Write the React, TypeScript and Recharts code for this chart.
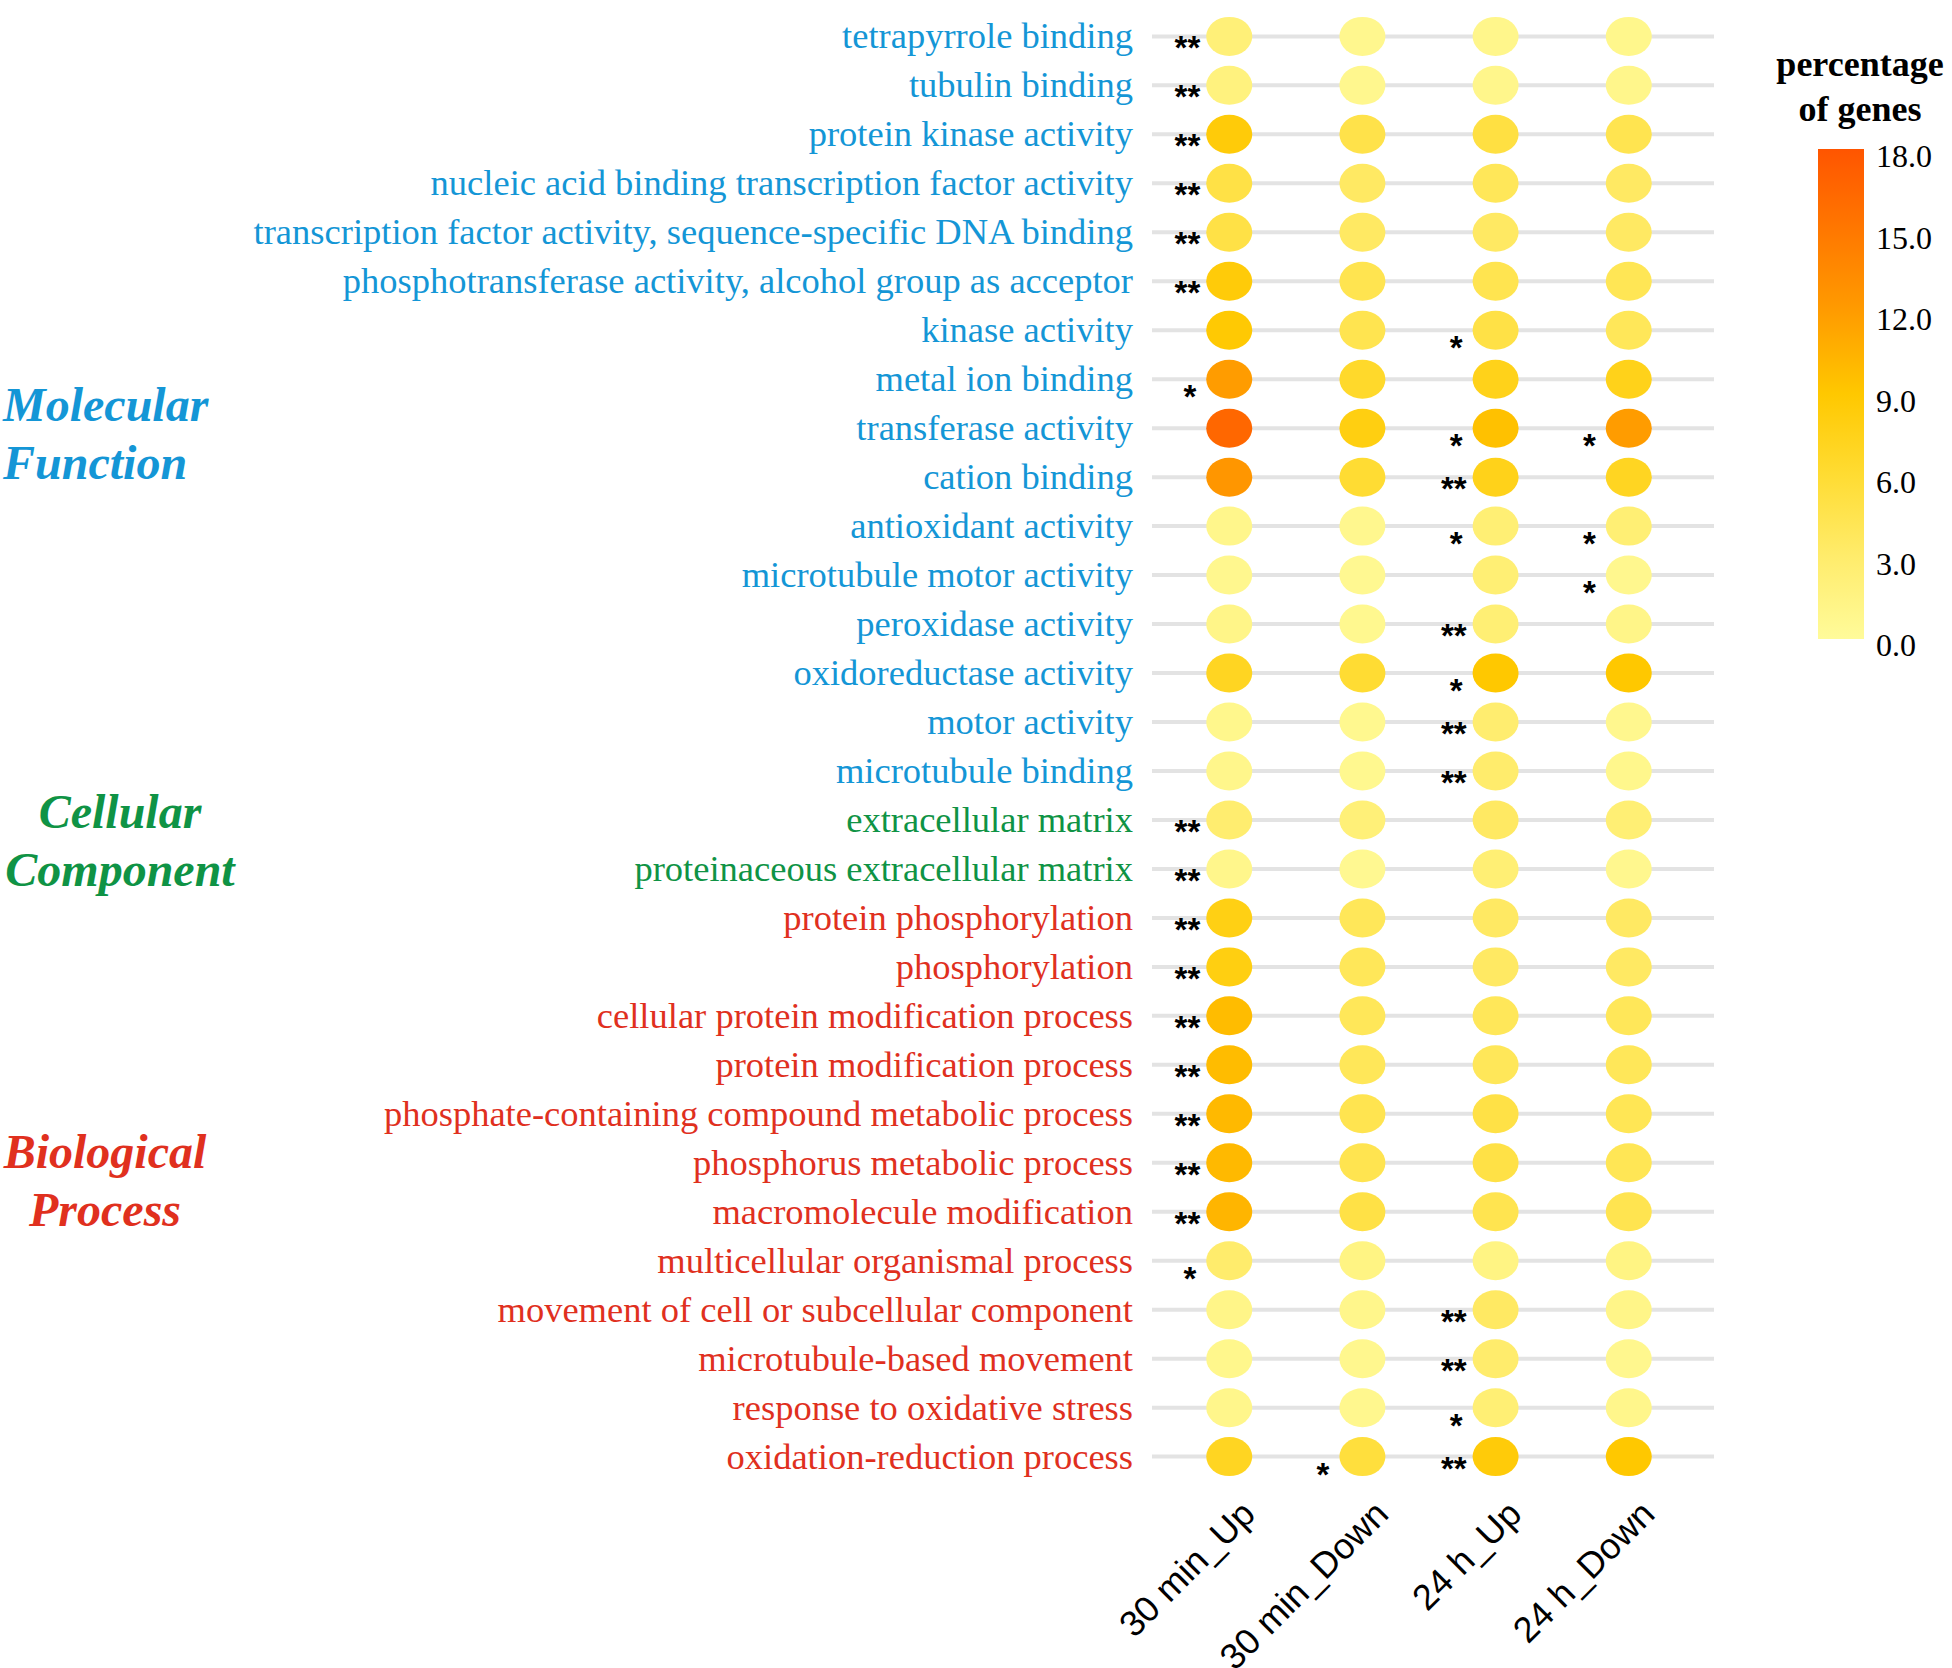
import React from 'react';
import { ScatterChart, Scatter, XAxis, YAxis, ReferenceLine } from 'recharts';

const terms = [
  'tetrapyrrole binding',
  'tubulin binding',
  'protein kinase activity',
  'nucleic acid binding transcription factor activity',
  'transcription factor activity, sequence-specific DNA binding',
  'phosphotransferase activity, alcohol group as acceptor',
  'kinase activity',
  'metal ion binding',
  'transferase activity',
  'cation binding',
  'antioxidant activity',
  'microtubule motor activity',
  'peroxidase activity',
  'oxidoreductase activity',
  'motor activity',
  'microtubule binding',
  'extracellular matrix',
  'proteinaceous extracellular matrix',
  'protein phosphorylation',
  'phosphorylation',
  'cellular protein modification process',
  'protein modification process',
  'phosphate-containing compound metabolic process',
  'phosphorus metabolic process',
  'macromolecule modification',
  'multicellular organismal process',
  'movement of cell or subcellular component',
  'microtubule-based movement',
  'response to oxidative stress',
  'oxidation-reduction process',
];

const termGroups = [
  'MF', 'MF', 'MF', 'MF', 'MF', 'MF', 'MF', 'MF', 'MF', 'MF', 'MF', 'MF', 'MF', 'MF', 'MF', 'MF',
  'CC', 'CC',
  'BP', 'BP', 'BP', 'BP', 'BP', 'BP', 'BP', 'BP', 'BP', 'BP', 'BP', 'BP',
];

const columns = ['30 min_Up', '30 min_Down', '24 h_Up', '24 h_Down'];

const up30 = [2.2, 1.8, 8.5, 5.0, 5.0, 8.5, 8.8, 12.0, 16.5, 12.5, 1.0, 0.8, 1.2, 7.0, 0.9, 1.0, 2.8, 1.0, 7.8, 8.0, 9.8, 9.8, 10.0, 10.0, 10.3, 3.0, 1.2, 0.9, 1.0, 7.0];
const down30 = [0.8, 0.8, 4.8, 3.5, 3.5, 4.5, 4.5, 6.5, 8.0, 6.0, 0.8, 0.6, 0.7, 6.0, 0.7, 0.7, 2.2, 0.6, 4.0, 4.0, 4.0, 4.0, 4.5, 4.5, 5.0, 1.5, 1.0, 0.8, 0.8, 5.5];
const up24 = [1.0, 1.0, 5.2, 4.0, 3.5, 4.5, 5.0, 7.5, 9.5, 7.5, 2.5, 2.5, 2.5, 9.0, 2.8, 3.0, 3.5, 2.5, 3.5, 3.5, 4.0, 4.0, 5.0, 5.0, 4.5, 1.5, 3.5, 3.0, 2.5, 8.5];
const down24 = [0.9, 1.0, 4.5, 3.5, 3.5, 4.2, 4.0, 7.5, 12.0, 7.0, 2.5, 0.8, 1.2, 9.0, 0.8, 0.9, 2.5, 0.8, 3.5, 3.5, 4.0, 4.0, 4.2, 4.2, 4.5, 1.5, 1.2, 0.8, 1.0, 9.0];

const sigUp30 = ['**', '**', '**', '**', '**', '**', '', '*', '', '', '', '', '', '', '', '', '**', '**', '**', '**', '**', '**', '**', '**', '**', '*', '', '', '', ''];
const sigDown30 = ['', '', '', '', '', '', '', '', '', '', '', '', '', '', '', '', '', '', '', '', '', '', '', '', '', '', '', '', '', '*'];
const sigUp24 = ['', '', '', '', '', '', '*', '', '*', '**', '*', '', '**', '*', '**', '**', '', '', '', '', '', '', '', '', '', '', '**', '**', '*', '**'];
const sigDown24 = ['', '', '', '', '', '', '', '', '*', '', '*', '*', '', '', '', '', '', '', '', '', '', '', '', '', '', '', '', '', '', ''];

const colorTicks = ['18.0', '15.0', '12.0', '9.0', '6.0', '3.0', '0.0'];

const groupColor: Record<string, string> = { MF: '#1496d6', CC: '#0f9345', BP: '#e0301e' };

const colorStops: [number, number[]][] = [
  [0, [255, 251, 154]],
  [3, [255, 236, 108]],
  [6, [255, 220, 51]],
  [9, [255, 200, 0]],
  [12, [255, 156, 0]],
  [15, [255, 120, 0]],
  [18, [255, 85, 0]],
];

function colorFor(v: number): string {
  for (let k = 0; k < colorStops.length - 1; k++) {
    const [a, ca] = colorStops[k];
    const [b, cb] = colorStops[k + 1];
    if (v <= b || k === colorStops.length - 2) {
      const t = Math.max(0, Math.min(1, (v - a) / (b - a)));
      const c = ca.map((x, i) => Math.round(x + (cb[i] - x) * t));
      return `rgb(${c[0]},${c[1]},${c[2]})`;
    }
  }
  return '#fff';
}

const valueCols = [up30, down30, up24, down24];
const sigCols = [sigUp30, sigDown30, sigUp24, sigDown24];

const series = columns.map((name, j) => ({
  name,
  data: terms.map((t, i) => ({ x: j, y: i, term: t, value: valueCols[j][i], sig: sigCols[j][i] })),
}));

const serif = "'Liberation Serif', 'Times New Roman', serif";
const sans = "'Liberation Sans', Arial, sans-serif";

const Dot = (props: any) => {
  const { cx, cy, payload } = props;
  if (cx == null || cy == null) return null;
  const dbl = payload.sig === '**';
  return (
    <g>
      <ellipse cx={cx} cy={cy} rx={23} ry={19.5} fill={colorFor(payload.value)} />
      {payload.sig ? (
        <text
          x={dbl ? cx - 29 : cx - 33}
          y={cy + (dbl ? 23 : 29)}
          textAnchor="end"
          fontFamily={sans}
          fontWeight="bold"
          fontSize={33}
          fill="#000"
        >
          {payload.sig}
        </text>
      ) : null}
    </g>
  );
};

const YTick = (props: any) => {
  const { x, y, payload } = props;
  const i = payload.value;
  return (
    <text x={x} y={y} dy={12} textAnchor="end" fontFamily={serif} fontSize={36.5} fill={groupColor[termGroups[i]]}>
      {terms[i]}
    </text>
  );
};

const XTick = (props: any) => {
  const { x, y, payload } = props;
  const ax = x + 28;
  const ay = y + 30;
  return (
    <text x={ax} y={ay} textAnchor="end" fontFamily={sans} fontSize={36} fill="#000" transform={`rotate(-45, ${ax}, ${ay})`}>
      {columns[payload.value]}
    </text>
  );
};

const groupLabelStyle: React.CSSProperties = {
  position: 'absolute',
  fontFamily: serif,
  fontStyle: 'italic',
  fontWeight: 'bold',
  fontSize: 48,
  lineHeight: '58px',
  whiteSpace: 'nowrap',
};

export default function App() {
  return (
    <div style={{ position: 'absolute', left: 0, top: 0, width: 1952, height: 1668, background: '#fff', overflow: 'hidden' }}>
      <ScatterChart width={1952} height={1668} margin={{ top: 7, right: 238, bottom: 0, left: 0 }}>
        <XAxis
          type="number"
          dataKey="x"
          domain={[-0.58, 3.64]}
          ticks={[0, 1, 2, 3]}
          interval={0}
          height={182}
          tickLine={false}
          axisLine={false}
          tickSize={0}
          tickMargin={0}
          allowDataOverflow
          tick={(p: any) => <XTick {...p} />}
        />
        <YAxis
          type="number"
          dataKey="y"
          domain={[-0.6, 29.6]}
          reversed
          ticks={terms.map((_, i) => i)}
          interval={0}
          width={1152}
          tickLine={false}
          axisLine={false}
          tickSize={0}
          tickMargin={19}
          allowDataOverflow
          tick={(p: any) => <YTick {...p} />}
        />
        {terms.map((t, i) => (
          <ReferenceLine key={t} y={i} stroke="#e3e3e3" strokeWidth={4} />
        ))}
        {series.map((s) => (
          <Scatter key={s.name} name={s.name} data={s.data} shape={(p: any) => <Dot {...p} />} isAnimationActive={false} />
        ))}
      </ScatterChart>

      <div style={{ ...groupLabelStyle, left: 3, top: 376, color: '#1496d6', textAlign: 'left' }}>
        Molecular<br />Function
      </div>
      <div style={{ ...groupLabelStyle, left: 0, width: 240, top: 783, color: '#0f9345', textAlign: 'center' }}>
        Cellular<br />Component
      </div>
      <div style={{ ...groupLabelStyle, left: 0, width: 210, top: 1123, color: '#e0301e', textAlign: 'center' }}>
        Biological<br />Process
      </div>

      <div
        style={{
          position: 'absolute',
          left: 1760,
          width: 200,
          top: 42,
          textAlign: 'center',
          fontFamily: serif,
          fontWeight: 'bold',
          fontSize: 36,
          lineHeight: '45px',
          color: '#000',
        }}
      >
        percentage<br />of genes
      </div>
      <div
        style={{
          position: 'absolute',
          left: 1818,
          top: 149,
          width: 46,
          height: 490,
          background:
            'linear-gradient(to top, rgb(255,251,154) 0%, rgb(255,236,108) 16.67%, rgb(255,220,51) 33.33%, rgb(255,200,0) 50%, rgb(255,156,0) 66.67%, rgb(255,120,0) 83.33%, rgb(255,85,0) 100%)',
        }}
      />
      {colorTicks.map((t, k) => (
        <div
          key={t}
          style={{
            position: 'absolute',
            left: 1876,
            top: 156 + k * 81.5,
            transform: 'translateY(-50%)',
            fontFamily: serif,
            fontSize: 32,
            lineHeight: 1,
            color: '#000',
          }}
        >
          {t}
        </div>
      ))}
    </div>
  );
}
